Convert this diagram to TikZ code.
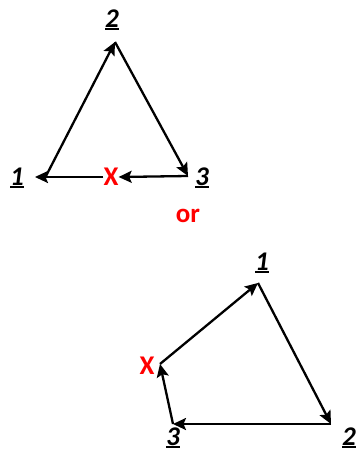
\documentclass[tikz,border=0pt]{standalone}
\usepackage{fontspec}
\setmainfont{Carlito}
\usepackage{tikz}
\usetikzlibrary{arrows.meta}
\definecolor{markred}{RGB}{255,0,0}
\newcommand{\thickul}[1]{\setbox0\hbox{#1}\rlap{\rule[-3pt]{\wd0}{2pt}}\box0}

\begin{document}
\begin{tikzpicture}[
      x=1pt, y=-1pt,
      lbl/.style={inner sep=0pt, font=\fontsize{27}{30}\selectfont\bfseries\itshape},
      xmark/.style={inner sep=0pt, text=markred, font=\fontsize{27}{30}\selectfont\bfseries},
      edge/.style={line width=2.3pt, -{Stealth[length=13pt, width=12pt, inset=2.5pt]}}
    ]
      \useasboundingbox (0,0) rectangle (358,451);

      % first cycle
      \coordinate (t1) at (35,177);
      \coordinate (p1) at (46,176);
      \coordinate (p2) at (115,42);
      \coordinate (p3) at (188,176);
      \node[lbl] (n1) at (17,178) {\thickul{1}};
      \node[lbl] (n2) at (112,20) {\thickul{2}};
      \node[lbl] (n3) at (202,178) {\thickul{3}};
      \node[xmark] (x1) at (111,177) {X};

      \draw[edge] (p1) -- (p2);
      \draw[edge] (p2) -- (p3);
      \draw[edge] (p3) -- (x1.east);
      \draw[edge] (x1.west) -- (t1);

      \node[inner sep=0pt, text=markred, font=\fontsize{27}{30}\selectfont\bfseries] (or) at (188,216) {or};

      % second cycle
      \coordinate (q1) at (258,283);
      \coordinate (q2) at (331,424);
      \coordinate (q3) at (173,424);
      \coordinate (qx) at (160,364);
      \node[lbl] (m1) at (262,263) {\thickul{1}};
      \node[lbl] (m2) at (349,438) {\thickul{2}};
      \node[lbl] (m3) at (173,438) {\thickul{3}};
      \node[xmark] (x2) at (147,366) {X};

      \draw[edge] (q1) -- (q2);
      \draw[edge] (q2) -- (q3);
      \draw[edge] (q3) -- (qx);
      \draw[edge] (qx) -- (q1);
    \end{tikzpicture}
\end{document}
